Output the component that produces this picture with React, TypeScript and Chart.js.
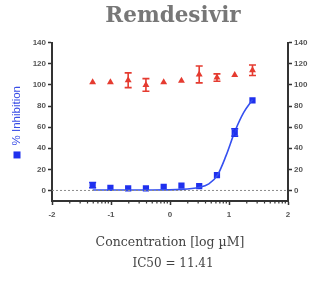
import { useEffect, useRef } from 'react';
import { Chart, registerables } from 'chart.js';
Chart.register(...registerables);

const logConc = [-1.311, -1.01, -0.709, -0.408, -0.107, 0.194, 0.495, 0.796, 1.097, 1.398];
const inhibition = [5, 2.5, 2, 2, 3.5, 4.5, 4, 14.5, 55, 85.5];
const inhibitionErr = [2.5, 0, 0, 0, 0, 0, 0, 0, 3.5, 0];
const viability = [102.5, 102.5, 104.5, 100, 102.5, 104, 110, 107, 109.5, 114];
const viabilityErr = [0, 0, 7, 6, 0, 0, 8, 3.5, 0, 5];
const fitX = [-1.311, -0.8, -0.3, 0.2, 0.5, 0.65, 0.8, 0.95, 1.1, 1.25, 1.398];
const fitY = [0.5, 0.5, 0.5, 1, 3, 6, 14, 33, 56, 74, 86];
const baselineX = [-2, 2];
const baselineY = [0, 0];
const xTicks = [-2, -1, 0, 1, 2];
const yTicks = [0, 20, 40, 60, 80, 100, 120, 140];

const BLUE = '#1f30ee';
const CURVE = '#3550f0';
const RED = '#e53b30';
const AXIS = '#333333';
const TICKTXT = '#555555';

const minorTicksPlugin = {
  id: 'minorTicks',
  afterDraw(chart: any) {
    const sx = chart.scales.x;
    const ctx = chart.ctx;
    const yAxis = chart.chartArea.bottom;
    ctx.save();
    ctx.strokeStyle = AXIS;
    ctx.lineWidth = 1.2;
    for (let d = -2; d < 2; d++) {
      for (let k = 2; k <= 9; k++) {
        const px = sx.getPixelForValue(d + Math.log10(k));
        ctx.beginPath();
        ctx.moveTo(px, yAxis);
        ctx.lineTo(px, yAxis + 2.5);
        ctx.stroke();
      }
    }
    ctx.restore();
  },
};

const errorBarsPlugin = {
  id: 'errorBars',
  afterDatasetsDraw(chart: any) {
    const sx = chart.scales.x;
    const sy = chart.scales.y;
    const ctx = chart.ctx;
    const draw = (vals: number[], errs: number[], color: string) => {
      ctx.save();
      ctx.strokeStyle = color;
      ctx.lineWidth = 1.6;
      vals.forEach((v, i) => {
        const e = errs[i];
        if (!e) return;
        const px = sx.getPixelForValue(logConc[i]);
        const y1 = sy.getPixelForValue(v + e);
        const y2 = sy.getPixelForValue(v - e);
        ctx.beginPath();
        ctx.moveTo(px, y1);
        ctx.lineTo(px, y2);
        ctx.moveTo(px - 3.5, y1);
        ctx.lineTo(px + 3.5, y1);
        ctx.moveTo(px - 3.5, y2);
        ctx.lineTo(px + 3.5, y2);
        ctx.stroke();
      });
      ctx.restore();
    };
    draw(inhibition, inhibitionErr, BLUE);
    draw(viability, viabilityErr, RED);
  },
};

const yLabelPlugin = {
  id: 'yLabel',
  afterDraw(chart: any) {
    const ctx = chart.ctx;
    const text = '% Inhibition';
    ctx.save();
    ctx.font = '11.5px "Liberation Sans", Arial, sans-serif';
    const w = ctx.measureText(text).width;
    const topY = 86;
    ctx.translate(17, topY + w);
    ctx.rotate(-Math.PI / 2);
    ctx.fillStyle = '#3a4ee6';
    ctx.textBaseline = 'middle';
    ctx.textAlign = 'left';
    ctx.fillText(text, 0, 0);
    ctx.fillStyle = BLUE;
    ctx.fillRect(-13, -3.5, 7, 7);
    ctx.restore();
  },
};

export default function App() {
  const ref = useRef<HTMLCanvasElement>(null);
  useEffect(() => {
    if (!ref.current) return;
    const tickFont = { family: '"Liberation Sans", Arial, sans-serif', size: 8, weight: 'bold' as const };
    const yScaleCommon = {
      type: 'linear' as const,
      min: -10,
      max: 140,
      afterBuildTicks: (axis: any) => {
        axis.ticks = yTicks.map((v) => ({ value: v }));
      },
      grid: { drawOnChartArea: false, drawTicks: true, tickLength: 4, tickColor: AXIS, tickWidth: 1.5 },
      border: { display: true, color: AXIS, width: 2 },
      ticks: { color: TICKTXT, font: tickFont, padding: 2 },
    };
    const chart = new Chart(ref.current, {
      type: 'scatter',
      data: {
        datasets: [
          {
            type: 'line',
            data: baselineX.map((x, i) => ({ x, y: baselineY[i] })),
            borderColor: '#8a8a8a',
            borderWidth: 1,
            borderDash: [2, 2],
            pointRadius: 0,
            yAxisID: 'y',
          },
          {
            type: 'line',
            data: fitX.map((x, i) => ({ x, y: fitY[i] })),
            borderColor: CURVE,
            borderWidth: 1.6,
            pointRadius: 0,
            cubicInterpolationMode: 'monotone',
            yAxisID: 'y',
          },
          {
            data: logConc.map((x, i) => ({ x, y: inhibition[i] })),
            pointStyle: 'rect',
            pointRadius: 4.4,
            backgroundColor: BLUE,
            borderColor: BLUE,
            borderWidth: 0,
            yAxisID: 'y',
          },
          {
            data: logConc.map((x, i) => ({ x, y: viability[i] })),
            pointStyle: 'triangle',
            pointRadius: 4,
            backgroundColor: RED,
            borderColor: RED,
            borderWidth: 0,
            yAxisID: 'y',
          },
        ],
      },
      options: {
        responsive: false,
        animation: false,
        devicePixelRatio: 1,
        layout: { padding: { left: 20, right: 0, top: 0, bottom: 0 } },
        plugins: {
          legend: { display: false },
          tooltip: { enabled: false },
          title: {
            display: true,
            text: 'Remdesivir',
            color: '#777777',
            font: { family: '"DejaVu Serif", serif', size: 21.5, weight: 'bold' },
            padding: { top: 4, bottom: 13 },
          },
          subtitle: {
            display: true,
            position: 'bottom',
            text: 'IC50 = 11.41',
            color: '#444444',
            font: { family: '"DejaVu Serif", serif', size: 12 },
            padding: { top: 0, bottom: 11 },
          },
        },
        scales: {
          x: {
            type: 'linear',
            min: -2,
            max: 2,
            afterBuildTicks: (axis: any) => {
              axis.ticks = xTicks.map((v) => ({ value: v }));
            },
            afterFit: (scale: any) => {
              scale.height = 55.6;
            },
            grid: { drawOnChartArea: false, drawTicks: true, tickLength: 4, tickColor: AXIS, tickWidth: 1.5 },
            border: { display: true, color: AXIS, width: 2 },
            ticks: { color: TICKTXT, font: tickFont, padding: 5, maxRotation: 0 },
            title: {
              display: true,
              text: 'Concentration [log µM]',
              color: '#444444',
              font: { family: '"DejaVu Serif", serif', size: 12.5 },
              padding: { top: 0, bottom: 6 },
            },
          },
          y: {
            ...yScaleCommon,
            position: 'left',
            afterFit: (scale: any) => {
              scale.width = 32;
            },
          },
          y2: {
            ...yScaleCommon,
            position: 'right',
            afterFit: (scale: any) => {
              scale.width = 38;
            },
          },
        },
      },
      plugins: [minorTicksPlugin, errorBarsPlugin, yLabelPlugin],
    } as any);
    return () => chart.destroy();
  }, []);
  return (
    <div style={{ position: 'fixed', left: 0, top: 0, width: 326, height: 282, background: '#fff' }}>
      <canvas ref={ref} width={326} height={282} style={{ width: 326, height: 282, display: 'block' }} />
    </div>
  );
}
